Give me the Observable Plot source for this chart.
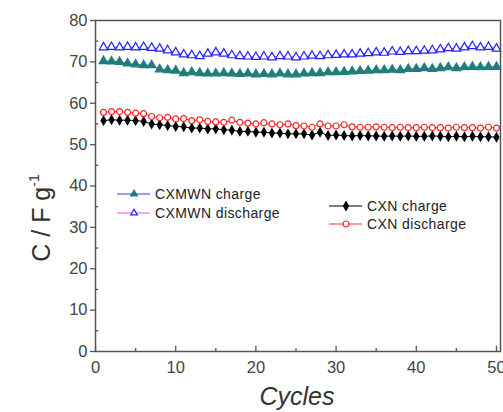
<!DOCTYPE html>
<html>
<head>
<meta charset="utf-8">
<script src="https://cdn.jsdelivr.net/npm/d3@7"></script>
<script src="https://cdn.jsdelivr.net/npm/@observablehq/plot@0.6"></script>
<style>
  html, body { margin: 0; padding: 0; background: #fff; }
  #chart { width: 503px; height: 412px; }
</style>
</head>
<body>
<div id="chart"></div>
<script>
const cycles = d3.range(1, 51);
const cxmwnDischarge = [73.5,73.6,73.5,73.6,73.5,73.6,73.4,73.2,72.8,72.3, 71.8,71.6,71.4,72.0,72.3,72.0,71.6,71.4,71.3,71.2, 71.3,71.1,71.4,71.3,71.1,71.3,71.5,71.4,71.6,71.7, 71.8,71.8,72.0,72.1,72.3,72.2,72.5,72.4,72.6,72.6, 72.7,72.8,73.0,73.3,73.2,73.5,73.8,73.5,73.6,73.2];
const cxmwnCharge = [70.2,70.1,70.0,69.6,69.4,69.2,69.2,68.2,68.0,67.9, 67.3,67.5,67.3,67.2,67.2,67.3,67.2,67.1,67.2,67.0, 67.1,67.0,67.2,67.0,67.0,67.2,67.3,67.3,67.5,67.5, 67.6,67.7,67.8,67.9,68.0,68.0,68.1,68.0,68.3,68.3, 68.5,68.3,68.5,68.7,68.5,68.7,68.8,68.7,68.8,68.8];
const cxnDischarge = [57.8,58.0,58.0,57.8,57.6,57.5,56.8,56.5,56.6,56.2, 56.3,55.8,56.0,55.6,55.5,55.4,55.9,55.4,55.2,55.0, 55.3,55.0,54.8,55.0,54.6,54.5,54.2,55.0,54.5,54.5, 54.8,54.3,54.2,54.2,54.3,54.2,54.1,54.2,54.1,54.1, 54.2,54.1,54.1,54.0,54.2,54.1,54.1,54.0,54.2,54.0];
const cxnCharge = [55.8,56.0,55.9,55.9,55.8,55.6,55.0,54.8,54.6,54.4, 54.3,54.0,54.0,53.8,53.8,53.6,53.5,53.2,53.2,53.0, 53.0,52.8,52.8,52.6,52.6,52.6,52.3,53.0,52.2,52.3, 52.2,52.1,52.2,52.1,52.1,52.0,52.1,52.0,52.1,52.0, 52.0,52.1,52.0,51.9,52.0,51.9,52.0,51.9,51.9,51.8];

const seriesNames = ["CXMWN charge", "CXMWN discharge", "CXN charge", "CXN discharge"];
const xTicks = [0, 10, 20, 30, 40, 50];
const xMinor = [5, 15, 25, 35, 45];
const yTicks = [0, 10, 20, 30, 40, 50, 60, 70, 80];
const yMinor = [5, 15, 25, 35, 45, 55, 65, 75];
const xLabel = "Cycles";

const styles = {
  "CXMWN charge":    {line: "#3a3aff", fill: "#1f7f78", stroke: "#1f7f78", symbol: "triangle", r: 3.2},
  "CXMWN discharge": {line: "#ff44ff", fill: "#ffffff", stroke: "#2222ff", symbol: "triangle", r: 3.2},
  "CXN charge":      {line: "#000000", fill: "#000000", stroke: "#000000", symbol: "diamond", r: 2.6},
  "CXN discharge":   {line: "#ff3333", fill: "#ffffff", stroke: "#ff2222", symbol: "circle", r: 3.0}
};
const seriesValues = {
  "CXMWN charge": cxmwnCharge,
  "CXMWN discharge": cxmwnDischarge,
  "CXN charge": cxnCharge,
  "CXN discharge": cxnDischarge
};
const tables = seriesNames.map(name => cycles.map((c, i) => ({cycle: c, value: seriesValues[name][i], series: name})));

const marks = [];
const drawOrder = ["CXN charge", "CXN discharge", "CXMWN charge", "CXMWN discharge"];
for (const name of drawOrder) {
  const data = tables[seriesNames.indexOf(name)];
  const s = styles[name];
  marks.push(Plot.line(data, {x: "cycle", y: "value", stroke: s.line, strokeWidth: 1}));
  marks.push(Plot.dot(data, {x: "cycle", y: "value", symbol: () => s.symbol, r: s.r, fill: s.fill, stroke: s.stroke, strokeWidth: 1.2}));
}

const plot = Plot.plot({
  width: 503,
  height: 412,
  marginTop: 20,
  marginRight: 3,
  marginBottom: 61,
  marginLeft: 95,
  style: {fontFamily: "'Liberation Sans', Arial, sans-serif", background: "#fff"},
  x: {domain: [0, 50.5]},
  y: {domain: [0, 80]},
  symbol: {type: "identity"},
  marks: [
    ...marks,
    Plot.ruleX(xTicks, {x: d => d, y1: 0, y2: 1.25, stroke: "#555", strokeWidth: 1.3}),
    Plot.ruleX(xMinor, {x: d => d, y1: 0, y2: 0.7, stroke: "#555", strokeWidth: 1.3}),
    Plot.ruleY(yMinor, {y: d => d, x1: 0, x2: 0.4, stroke: "#555", strokeWidth: 1.3}),
    Plot.axisY({ticks: yTicks, tickSize: 5, tickPadding: 3, fontSize: 16.5, color: "#444", stroke: "#555", strokeWidth: 1.3, label: null}),
    Plot.axisX({ticks: xTicks, tickSize: 0, tickPadding: 10, fontSize: 16.5, color: "#444", label: null}),
    Plot.frame({stroke: "#555", strokeWidth: 1.5})
  ]
});

const chart = document.getElementById("chart");
chart.appendChild(plot);

const svg = d3.select(plot);
const font = "'Liberation Sans', Arial, sans-serif";
// Axis titles
const yt = svg.append("text")
  .attr("transform", "translate(50,218) rotate(-90)")
  .attr("text-anchor", "middle")
  .attr("font-family", font)
  .attr("font-size", 25)
  .attr("fill", "#333");
yt.append("tspan").text("C / F g");
yt.append("tspan").attr("font-size", 14).attr("dy", -11).text("-1");

svg.append("text")
  .attr("x", 297).attr("y", 405)
  .attr("text-anchor", "middle")
  .attr("font-family", font)
  .attr("font-style", "italic")
  .attr("font-size", 25)
  .attr("fill", "#333")
  .text(xLabel);

// Legend
const legendPos = {
  "CXMWN charge":    {x: 117, y: 194},
  "CXMWN discharge": {x: 117, y: 213},
  "CXN charge":      {x: 329, y: 206},
  "CXN discharge":   {x: 329, y: 224}
};
const symMap = {triangle: d3.symbolTriangle2, diamond: d3.symbolDiamond, circle: d3.symbolCircle};
for (const name of seriesNames) {
  const p = legendPos[name], s = styles[name];
  const g = svg.append("g");
  g.append("line").attr("x1", p.x).attr("x2", p.x + 33).attr("y1", p.y).attr("y2", p.y)
    .attr("stroke", s.line).attr("stroke-width", 1.2);
  g.append("path").attr("transform", `translate(${p.x + 17},${p.y})`)
    .attr("d", d3.symbol(symMap[s.symbol], Math.PI * s.r * s.r)())
    .attr("fill", s.fill).attr("stroke", s.stroke).attr("stroke-width", 1.2);
  g.append("text").attr("x", p.x + 38).attr("y", p.y + 5)
    .attr("text-anchor", "start")
    .attr("font-family", font)
    .attr("font-size", 14)
    .attr("letter-spacing", 0.4)
    .attr("fill", "#222")
    .text(name);
}
</script>
</body>
</html>
